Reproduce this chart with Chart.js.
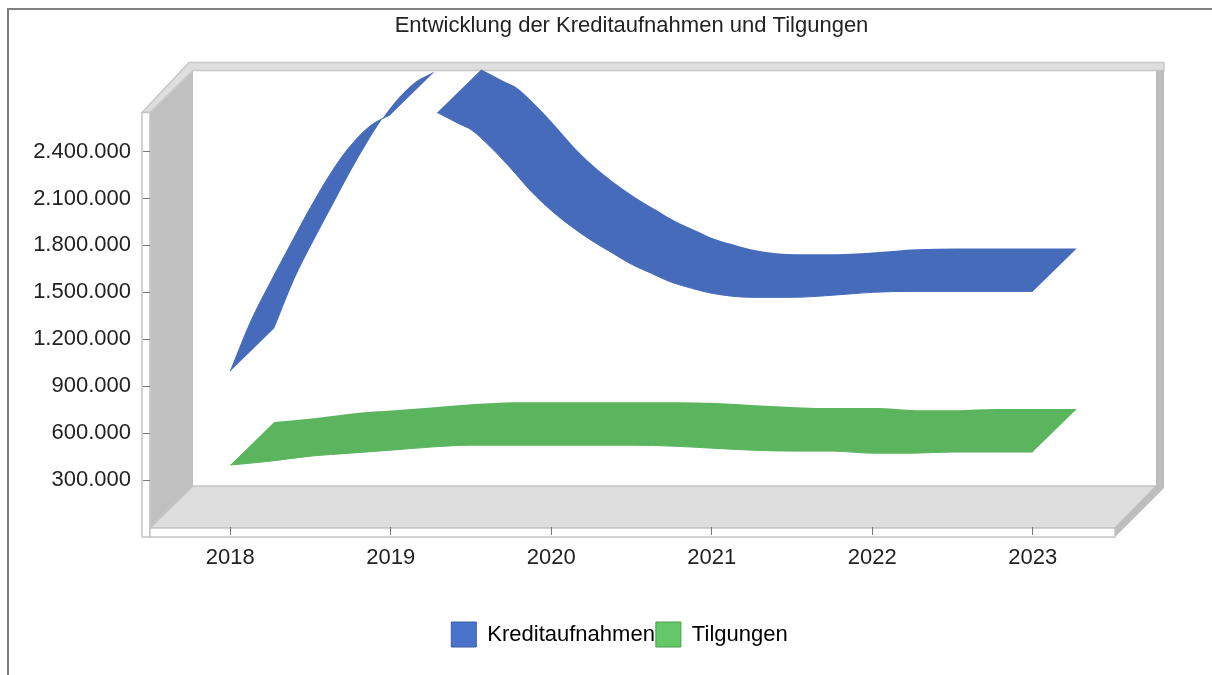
<!DOCTYPE html>
<html>
<head>
<meta charset="utf-8">
<title>Kreditaufnahmen und Tilgungen</title>
<script src="https://cdn.jsdelivr.net/npm/chart.js@4"></script>
<style>
    html, body { margin: 0; padding: 0; background: #fff; overflow: hidden; }
    canvas { position: absolute; left: 0; top: 0; }
    .rahmen { position: absolute; left: 7px; top: 8px; right: 0; bottom: 0; border-left: 2px solid #808080; border-top: 2px solid #808080; }
</style>
</head>
<body>
<div class="rahmen"></div>
<canvas id="chart" width="1212" height="675"></canvas>
<script>
const yearLabels = [2018, 2019, 2020, 2021, 2022, 2023];
const valueTicks = [300000, 600000, 900000, 1200000, 1500000, 1800000, 2100000, 2400000];

// null = the curve leaves the plot there
const kreditJahre = [2018, 2018.125, 2018.25, 2018.375, 2018.5, 2018.625, 2018.75, 2018.875, 2019, 2019.15,
    2019.29, 2019.43, 2019.5, 2019.625, 2019.75, 2019.875, 2020, 2020.125, 2020.25, 2020.375, 2020.5, 2020.625,
    2020.75, 2020.875, 2021, 2021.25, 2021.5, 2021.75, 2022, 2022.25, 2022.5, 2022.75, 2023];
const kreditWerte = [995000, 1309000, 1564000, 1806000, 2043000, 2260000, 2438000, 2566000, 2636000, null,
    2649000, 2575000, 2540000, 2425000, 2290000, 2145000, 2023000, 1921000, 1832000, 1755000, 1679000, 1621000,
    1564000, 1526000, 1494000, 1468000, 1468000, 1481000, 1500000, 1506000, 1506000, 1506000, 1506000];

const tilgungJahre = [2018, 2018.25, 2018.5, 2018.75, 2019, 2019.25, 2019.5, 2019.75, 2020, 2020.25, 2020.5, 2020.75,
    2021, 2021.25, 2021.5, 2021.75, 2022, 2022.25, 2022.5, 2022.75, 2023];
const tilgungWerte = [396000, 421000, 453000, 472000, 491000, 511000, 523000, 523000, 523000, 523000, 523000, 517000,
    504000, 491000, 485000, 485000, 472000, 472000, 479000, 479000, 479000];

const kreditFarbe = '#476bbb';
const tilgungFarbe = '#5bb45e';
const tiefeX = 44;
const tiefeY = 43;

function punkte(jahre, werte) {
    return jahre.map((jahr, i) => ({ x: jahr, y: werte[i] }));
}

function formatWert(wert) {
    return String(wert).replace(/\B(?=(\d{3})+(?!\d))/g, '.');
}

function polygon(ctx, coords, fill, stroke) {
    ctx.beginPath();
    coords.forEach((p, i) => i ? ctx.lineTo(p[0], p[1]) : ctx.moveTo(p[0], p[1]));
    ctx.closePath();
    ctx.fillStyle = fill;
    ctx.fill();
    if (stroke) {
        ctx.strokeStyle = stroke;
        ctx.lineWidth = 1.5;
        ctx.stroke();
    }
}

// the gray 3d box behind the plot
const rahmenPlugin = {
    id: 'rahmen',
    afterLayout(chart) {
        // legend sits right of the canvas middle in the original
        chart.legend.left += 63;
        chart.legend.right += 63;
    },
    beforeDraw(chart) {
        const ctx = chart.ctx;
        const a = chart.chartArea;
        const l = a.left, r = a.right + 2, t = a.top, b = a.bottom + 1;
        const dx = 43, dy = 42, band = 8;
        const wand = r + dx - 2;
        ctx.save();
        polygon(ctx, [[l, t], [l + dx, t - dy], [l + dx, b - dy], [l, b]], '#c0c0c0');
        polygon(ctx, [[l, b], [l + dx, b - dy], [wand, b - dy], [r, b]], '#dedede', '#c4c4c4');
        polygon(ctx, [[l - band, t], [l - band + dx + 4, t - dy - band], [wand + band, t - dy - band],
            [wand + band, t - dy], [l + dx, t - dy], [l, t]], '#dedede', '#c8c8c8');
        polygon(ctx, [[wand, t - dy], [wand + band, t - dy], [wand + band, b - dy + 2], [r, b + band + 1],
            [r, b], [wand, b - dy]], '#bdbdbd');
        polygon(ctx, [[l - band, t], [l, t], [l, b + band + 1], [l - band, b + band + 1]], '#fff', '#c4c4c4');
        polygon(ctx, [[l, b], [r, b], [r, b + band + 1], [l, b + band + 1]], '#fff', '#c4c4c4');
        ctx.restore();
    }
};

// extrudes every line backwards into a ribbon
const bandPlugin = {
    id: 'band',
    beforeDatasetDraw(chart, args) {
        const ctx = chart.ctx;
        const pts = args.meta.data;
        ctx.save();
        ctx.fillStyle = chart.data.datasets[args.index].borderColor;
        let start = 0;
        while (start < pts.length) {
            let end = start;
            while (end + 1 < pts.length && !pts[end + 1].skip) end++;
            ctx.beginPath();
            ctx.moveTo(pts[start].x, pts[start].y);
            for (let i = start; i < end; i++) {
                const p = pts[i], q = pts[i + 1];
                ctx.bezierCurveTo(p.cp2x, p.cp2y, q.cp1x, q.cp1y, q.x, q.y);
            }
            ctx.lineTo(pts[end].x + tiefeX, pts[end].y - tiefeY);
            for (let i = end; i > start; i--) {
                const q = pts[i], p = pts[i - 1];
                ctx.bezierCurveTo(q.cp1x + tiefeX, q.cp1y - tiefeY, p.cp2x + tiefeX, p.cp2y - tiefeY, p.x + tiefeX, p.y - tiefeY);
            }
            ctx.closePath();
            ctx.fill();
            start = end + 1;
            while (start < pts.length && pts[start].skip) start++;
        }
        ctx.restore();
    }
};

Chart.defaults.font.family = '"Liberation Sans", Arial, sans-serif';
Chart.defaults.color = '#222';

const myChart = new Chart(document.getElementById('chart').getContext('2d'), {
    type: 'line',
    data: {
        datasets: [{
            label: 'Kreditaufnahmen',
            data: punkte(kreditJahre, kreditWerte),
            borderColor: kreditFarbe,
            backgroundColor: '#4a74cc',
            borderWidth: 1,
            pointRadius: 0,
            cubicInterpolationMode: 'monotone',
            clip: false
        }, {
            label: 'Tilgungen',
            data: punkte(tilgungJahre, tilgungWerte),
            borderColor: tilgungFarbe,
            backgroundColor: '#62c966',
            borderWidth: 1,
            pointRadius: 0,
            cubicInterpolationMode: 'monotone',
            clip: false
        }]
    },
    options: {
        responsive: false,
        animation: false,
        layout: { padding: { left: 0, right: 99, top: 0, bottom: 18 } },
        plugins: {
            tooltip: { enabled: false },
            title: {
                display: true,
                text: 'Entwicklung der Kreditaufnahmen und Tilgungen',
                fullSize: false,
                font: { size: 22, weight: 'normal' },
                color: '#222',
                padding: { top: 13, bottom: 73 }
            },
            legend: {
                position: 'bottom',
                labels: {
                    boxWidth: 25,
                    boxHeight: 25,
                    padding: 1,
                    font: { size: 22 },
                    color: '#222',
                    generateLabels(chart) {
                        return chart.data.datasets.map((ds, i) => ({
                            text: ds.label,
                            fillStyle: ds.backgroundColor,
                            strokeStyle: i ? '#4c9a50' : '#3c5ea8',
                            lineWidth: 1,
                            datasetIndex: i
                        }));
                    }
                }
            }
        },
        scales: {
            x: {
                type: 'linear',
                min: 2017.5,
                max: 2023.5,
                afterBuildTicks(scale) { scale.ticks = yearLabels.map(value => ({ value })); },
                afterFit(scale) { scale.height = 94; },
                border: { display: false },
                grid: { drawOnChartArea: false, drawTicks: true, tickLength: 8, tickColor: '#777' },
                ticks: {
                    autoSkip: false,
                    maxRotation: 0,
                    padding: 10,
                    font: { size: 22 },
                    color: '#222',
                    callback: value => String(value)
                }
            },
            y: {
                min: 0,
                max: 2650000,
                afterBuildTicks(scale) { scale.ticks = valueTicks.map(value => ({ value })); },
                afterFit(scale) { scale.width = 150; },
                border: { display: false },
                grid: { drawOnChartArea: false, drawTicks: true, tickLength: 7, tickColor: '#777' },
                ticks: {
                    autoSkip: false,
                    padding: 12,
                    font: { size: 22 },
                    color: '#222',
                    callback: formatWert
                }
            }
        }
    },
    plugins: [rahmenPlugin, bandPlugin]
});
</script>
</body>
</html>
